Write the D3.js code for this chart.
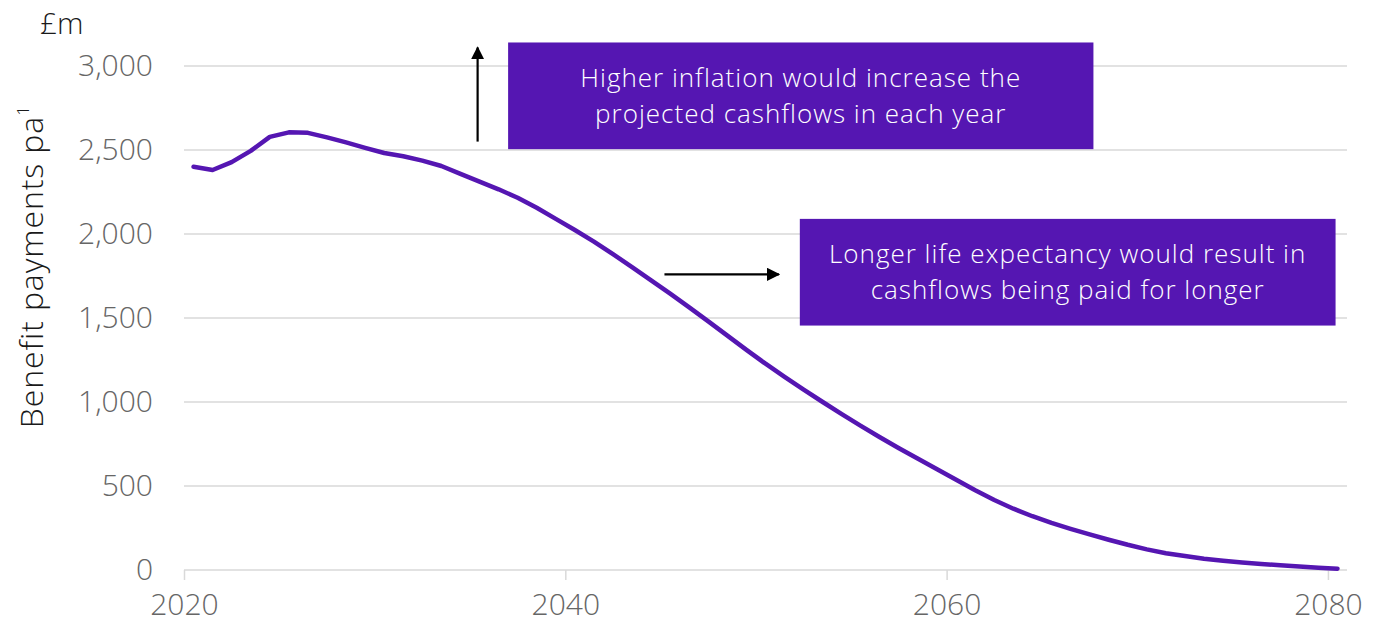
<!DOCTYPE html>
<html>
<head>
<meta charset="utf-8">
<script src="https://cdn.jsdelivr.net/npm/d3@7"></script>
<style>
  html, body { margin: 0; padding: 0; background: #fff; }
  svg { display: block; font-family: "Century Gothic", "Open Sans", sans-serif; }
</style>
</head>
<body>
<svg id="chart" width="1378" height="625"></svg>
<script>
// Projected benefit payments per annum (£m), one value per year
const years = d3.range(2021, 2082);
const payments = [
  2400, 2381, 2428, 2495, 2578, 2605, 2602, 2575, 2545, 2513,
  2482, 2463, 2437, 2405, 2358, 2312, 2266, 2216, 2156, 2090,
  2024, 1955, 1880, 1803, 1724, 1645, 1563, 1480, 1395, 1310,
  1228, 1150, 1074, 1000, 928, 858, 790, 725, 662, 600,
  537, 475, 417, 365, 320, 280, 245, 212, 180, 150,
  123, 100, 83, 67, 55, 45, 36, 28, 21, 14, 8
];
const yTicks = [0, 500, 1000, 1500, 2000, 2500, 3000];
const xTicks = [2020, 2040, 2060, 2080];

const notes = [
  { lines: ["Higher inflation would increase the", "projected cashflows in each year"],
    year0: 2037.0, year1: 2067.7, val0: 3140, val1: 2505 },
  { lines: ["Longer life expectancy would result in", "cashflows being paid for longer"],
    year0: 2052.3, year1: 2080.4, val0: 2090, val1: 1455 }
];
const arrows = [
  { x0: 2035.4, x1: 2035.4, y0: 2550, y1: 3110 },   // up: inflation
  { x0: 2045.2, x1: 2051.2, y0: 1760, y1: 1760 }    // right: longevity
];

const svg = d3.select("#chart");
const x = d3.scaleLinear().domain([2020, 2081]).range([184, 1347]);
const y = d3.scaleLinear().domain([0, 3000]).range([570, 66]);
const step = x(2021) - x(2020);

const purple = "#5516b2";
const grey = "#666666";

// horizontal gridlines
svg.append("g")
  .selectAll("line")
  .data(yTicks)
  .join("line")
  .attr("x1", x(2020)).attr("x2", x(2081))
  .attr("y1", d => y(d)).attr("y2", d => y(d))
  .attr("stroke", "#d9d9d9").attr("stroke-width", 1.5);

// y axis labels
const yAxis = svg.append("g")
  .attr("transform", `translate(${x(2020) - 31},0)`)
  .call(d3.axisLeft(y).tickValues(yTicks).tickSize(0).tickPadding(0)
        .tickFormat(d3.format(",")))
  .attr("font-family", null).attr("font-size", null);
yAxis.select(".domain").remove();
yAxis.selectAll("text")
  .attr("fill", grey).style("font-size", "30px").style("font-weight", 300);

// x axis with ticks below the baseline
const xAxis = svg.append("g")
  .attr("transform", `translate(0,${y(0)})`)
  .call(d3.axisBottom(x).tickValues(xTicks).tickSize(10).tickPadding(14)
        .tickFormat(d3.format("d")))
  .attr("font-family", null).attr("font-size", null);
xAxis.select(".domain").remove();
xAxis.selectAll(".tick line").attr("stroke", "#d9d9d9").attr("stroke-width", 1.5);
xAxis.selectAll("text")
  .attr("fill", grey).style("font-size", "30px").style("font-weight", 300);

// unit label
svg.append("text")
  .attr("x", 40).attr("y", 34)
  .attr("fill", "#1a1a1a").style("font-size", "30px").style("font-weight", 300)
  .text("£m");

// y axis title
const title = svg.append("text")
  .attr("transform", `translate(43,${y(1805)}) rotate(-90)`)
  .attr("text-anchor", "middle")
  .attr("fill", "#1a1a1a").style("font-size", "32px").style("font-weight", 300)
  .style("letter-spacing", "0.9px");
title.append("tspan").text("Benefit payments pa");
title.append("tspan").attr("dy", -14).style("font-size", "17px").text("1");

// payment projection line (values plotted mid-year)
const line = d3.line()
  .x((d, i) => x(years[i]) - step / 2)
  .y(d => y(d));
svg.append("path")
  .datum(payments)
  .attr("d", line)
  .attr("fill", "none")
  .attr("stroke", purple)
  .attr("stroke-width", 4.5)
  .attr("stroke-linejoin", "round")
  .attr("stroke-linecap", "round");

// arrows
const defs = svg.append("defs");
defs.append("marker")
  .attr("id", "head")
  .attr("viewBox", "0 0 10 10")
  .attr("refX", 9).attr("refY", 5)
  .attr("markerWidth", 6).attr("markerHeight", 6)
  .attr("orient", "auto")
  .append("path").attr("d", "M0,0 L10,5 L0,10 Z").attr("fill", "#000");

svg.append("g")
  .selectAll("line")
  .data(arrows)
  .join("line")
  .attr("x1", d => x(d.x0)).attr("y1", d => y(d.y0))
  .attr("x2", d => x(d.x1)).attr("y2", d => y(d.y1))
  .attr("stroke", "#000").attr("stroke-width", 2.2)
  .attr("marker-end", "url(#head)");

// annotation boxes
const box = svg.append("g")
  .selectAll("g")
  .data(notes)
  .join("g");
box.append("rect")
  .attr("x", d => x(d.year0)).attr("y", d => y(d.val0))
  .attr("width", d => x(d.year1) - x(d.year0))
  .attr("height", d => y(d.val1) - y(d.val0))
  .attr("fill", purple);
box.each(function (d) {
  const g = d3.select(this);
  const cx = (x(d.year0) + x(d.year1)) / 2;
  const cy = (y(d.val0) + y(d.val1)) / 2;
  const t = g.append("text")
    .attr("text-anchor", "middle")
    .attr("fill", "#fff")
    .style("font-size", "26px").style("font-weight", 300)
    .style("letter-spacing", "1px");
  d.lines.forEach((s, i) => {
    t.append("tspan").attr("x", cx)
      .attr("y", cy + (i - (d.lines.length - 1) / 2) * 36 + 9)
      .text(s);
  });
});
</script>
</body>
</html>
